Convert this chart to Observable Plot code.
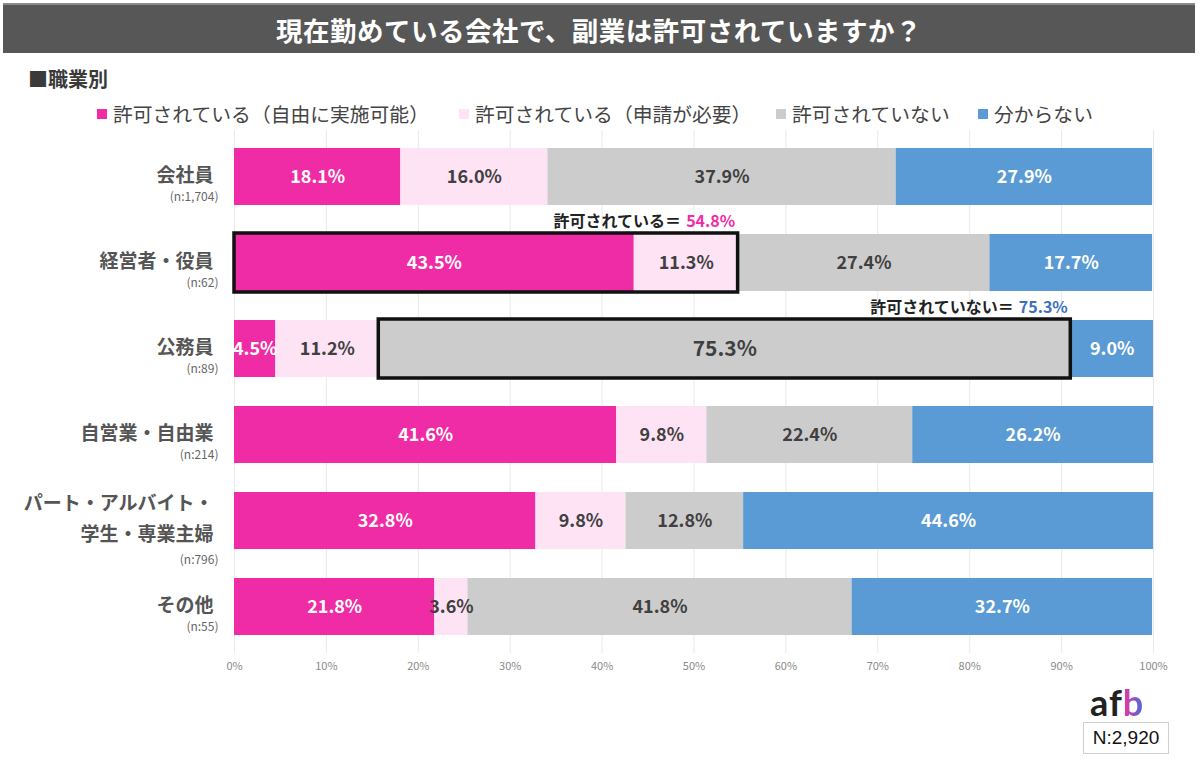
<!DOCTYPE html>
<html><head><meta charset="utf-8">
<script src="https://cdn.jsdelivr.net/npm/d3@7"></script>
<script src="https://cdn.jsdelivr.net/npm/@observablehq/plot@0.6"></script>
<style>
body{margin:0;background:#fff;font-family:"Noto Sans CJK JP","Noto Sans",sans-serif;width:1200px;height:775px;position:relative;overflow:hidden}
#title{position:absolute;left:3px;top:3px;width:1192px;height:50px;background:#575757;border-top:2px solid #8a8a8a;box-sizing:border-box;color:#fff;font-size:26.5px;font-weight:bold;display:flex;align-items:center;justify-content:center;letter-spacing:0.5px}
#sub{position:absolute;left:28px;top:64px;font-size:20px;font-weight:bold;color:#3a3a3a}
#legend{position:absolute;left:0;top:99px;width:1200px;height:30px;font-size:19.8px;color:#444;white-space:nowrap}
#legend .it{position:absolute;top:0;display:flex;align-items:center}
#legend .sw{width:10px;height:10px;margin-right:6px}
#chart{position:absolute;left:0;top:120px}
#logo{position:absolute;left:1090px;top:680px;font-family:Lato,"Open Sans",sans-serif;font-size:36px;font-weight:bold;color:#222;letter-spacing:1px}
#logo .b{background:linear-gradient(90deg,#f0359a,#3b6fe0);-webkit-background-clip:text;background-clip:text;color:transparent}
#n{position:absolute;left:1083px;top:722px;width:86px;height:32px;border:1.5px solid #cfcfcf;box-sizing:border-box;font-family:"Liberation Sans",Arial,sans-serif;font-size:19px;color:#111;display:flex;align-items:center;justify-content:center}
</style></head>
<body>
<div id="title">現在勤めている会社で、副業は許可されていますか？</div>
<div id="sub">■職業別</div>
<div id="legend"></div>
<div id="chart"></div>
<div id="logo">af<span class="b">b</span></div>
<div id="n">N:2,920</div>
<script>
// ---- data ----
const categories = ["会社員","経営者・役員","公務員","自営業・自由業","パート・アルバイト・学生・専業主婦","その他"];
const categoryLabels = ["会社員","経営者・役員","公務員","自営業・自由業","パート・アルバイト・\n学生・専業主婦","その他"];
const sampleSizes = ["(n:1,704)","(n:62)","(n:89)","(n:214)","(n:796)","(n:55)"];
const series = ["許可されている（自由に実施可能）","許可されている（申請が必要）","許可されていない","分からない"];
const seriesColors = ["#f02ba6","#fde3f4","#cdcccc","#5b9bd5"];
const labelColors = ["#ffffff","#404040","#404040","#ffffff"];
const freeValues = [18.1,43.5,4.5,41.6,32.8,21.8];
const applyValues = [16.0,11.3,11.2,9.8,9.8,3.6];
const notValues = [37.9,27.4,75.3,22.4,12.8,41.8];
const unknownValues = [27.9,17.7,9.0,26.2,44.6,32.7];
const xTicks = [0,10,20,30,40,50,60,70,80,90,100];
const highlightCategories = ["経営者・役員","公務員"];
const highlightTexts = ["許可されている＝","許可されていない＝"];
const highlightColors = ["#f02ba6","#3d6fc0"];

// ---- legend ----
const legendLeft = [97, 459, 776, 978];
const lg = document.getElementById("legend");
series.forEach((s,i)=>{
  const it=document.createElement("div");it.className="it";
  it.style.left = legendLeft[i]+"px";
  it.innerHTML=`<span class="sw" style="background:${seriesColors[i]}"></span><span>${s}</span>`;
  lg.appendChild(it);
});

// ---- table ----
const valuesBySeries = [freeValues, applyValues, notValues, unknownValues];
const rows = categories.flatMap((c,i)=>series.map((s,j)=>({category:c, series:s, si:j, value:valuesBySeries[j][i]})));
const catRows = categories.map((c,i)=>({category:c, label:categoryLabels[i], n:sampleSizes[i]}));
const highlights = [
  (()=>{const i=categories.indexOf(highlightCategories[0]);return {category:categories[i], x1:0, x2:freeValues[i]+applyValues[i], total:freeValues[i]+applyValues[i], text:highlightTexts[0], color:highlightColors[0]};})(),
  (()=>{const i=categories.indexOf(highlightCategories[1]);const s=freeValues[i]+applyValues[i];return {category:categories[i], x1:s, x2:s+notValues[i], total:notValues[i], text:highlightTexts[1], color:highlightColors[1]};})()
];

const font = '"Noto Sans CJK JP","Noto Sans",sans-serif';
const chart = Plot.plot({
  width:1200, height:570,
  marginLeft:234, marginRight:47, marginTop:10, marginBottom:37,
  style:{fontFamily:font, background:"transparent"},
  x:{domain:[0,100], axis:null},
  y:{domain:categories, paddingInner:0.34, paddingOuter:0.2, axis:null},
  color:{type:"identity"},
  marks:[
    Plot.gridX(xTicks, {stroke:"#e9e9e9", strokeOpacity:1}),
    Plot.axisX(xTicks, {tickSize:0, tickPadding:9, fontSize:11, fill:"#8a8a8a", tickFormat:d=>d+"%"}),
    Plot.barX(rows, {x:"value", y:"category", z:"series", fill:d=>seriesColors[d.si]}),
    Plot.text(rows, Plot.stackX({x:"value", y:"category", z:"series",
      text:d=>d.value.toFixed(1)+"%",
      fill:d=>labelColors[d.si],
      fontSize:d=>(d.category===highlightCategories[1] && d.si===2)?21:18,
      fontWeight:"bold"})),
    Plot.barX(highlights, {x1:"x1", x2:"x2", y:"category", fill:"none", stroke:"#111", strokeWidth:3.5, insetTop:-1, insetBottom:-1}),
    Plot.text(highlights, {x:"x2", y:"category", text:d=>d.total.toFixed(1)+"%", fill:d=>d.color, textAnchor:"end", dx:-3, dy:-41, fontSize:16, fontWeight:"bold"}),
    Plot.text(highlights, {x:"x2", y:"category", text:"text", fill:"#222", textAnchor:"end", dx:-57, dy:-41, fontSize:16, fontWeight:"bold"}),
    Plot.text(catRows, {x:()=>0, y:"category", text:"label", textAnchor:"end", dx:-21, dy:-5, fontSize:19, fontWeight:"bold", fill:"#555", lineHeight:1.63}),
    Plot.text(catRows, {filter:d=>!d.label.includes("\n"), x:()=>0, y:"category", text:"n", textAnchor:"end", dx:-16, dy:20, fontSize:12, fill:"#666"}),
    Plot.text(catRows, {filter:d=>d.label.includes("\n"), x:()=>0, y:"category", text:"n", textAnchor:"end", dx:-16, dy:39, fontSize:12, fill:"#666"})
  ]
});
document.getElementById("chart").appendChild(chart);
</script>
</body></html>
